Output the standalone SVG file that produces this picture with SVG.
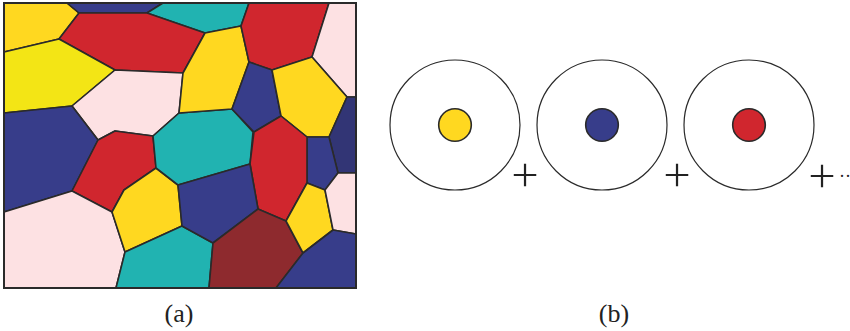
<svg xmlns="http://www.w3.org/2000/svg" width="850" height="331" viewBox="0 0 850 331">
<style>
.c{stroke:#2a2a2a;stroke-width:1.6;stroke-linejoin:round}
.y{fill:#ffd820}.yb{fill:#f3e515}.r{fill:#d0262e}.b{fill:#373d8a}.t{fill:#21b3b1}.p{fill:#fde1e3}.dr{fill:#8e2a2e}.n{fill:#323575}
.o{fill:none;stroke:#2a2a2a;stroke-width:1.2}
.lbl{font-family:"Liberation Serif",serif;fill:#222}
.pl{font-family:"Inter","Liberation Sans",sans-serif;font-weight:200;fill:#222}
</style>
<rect width="850" height="331" fill="#fff"/>
<g id="voronoi">
<polygon class="c y" points="4,3 67,3 79,13 59,39 4,52"/>
<polygon class="c b" points="67,3 163,3 147,13 79,13"/>
<polygon class="c t" points="163,3 249,3 241,26 205,33 147,13"/>
<polygon class="c r" points="79,13 147,13 205,33 183,73 115,70 59,39"/>
<polygon class="c yb" points="4,52 59,39 115,70 72,106 4,113"/>
<polygon class="c p" points="115,70 183,73 179,113 153,136 115,131 98,140 72,106"/>
<polygon class="c b" points="4,113 72,106 98,140 72,191 4,212"/>
<polygon class="c r" points="98,140 115,131 153,136 156,168 124,190 112,212 72,191"/>
<polygon class="c p" points="4,212 72,191 112,212 125,252 116,288 4,288"/>
<polygon class="c y" points="112,212 124,190 156,168 178,185 182,226 125,252"/>
<polygon class="c t" points="125,252 182,226 213,243 209,288 116,288"/>
<polygon class="c t" points="153,136 179,113 232,109 253,132 250,164 178,185 156,168"/>
<polygon class="c y" points="205,33 241,26 249,62 232,109 179,113 183,73"/>
<polygon class="c r" points="241,26 249,3 329,3 312,57 272,70 249,62"/>
<polygon class="c p" points="329,3 356,3 356,97 347,97 312,57"/>
<polygon class="c b" points="249,62 272,70 281,116 254,132 232,109"/>
<polygon class="c y" points="272,70 312,57 347,97 329,137 307,137 281,116"/>
<polygon class="c n" points="347,97 356,97 356,173 338,173 329,137"/>
<polygon class="c b" points="307,137 329,137 338,173 325,190 307,183"/>
<polygon class="c r" points="254,132 281,116 307,137 307,183 286,221 258,209 250,164"/>
<polygon class="c b" points="178,185 250,164 258,209 213,243 182,226"/>
<polygon class="c dr" points="213,243 258,209 286,221 303,253 276,288 209,288"/>
<polygon class="c y" points="307,183 325,190 333,230 303,253 286,221"/>
<polygon class="c p" points="325,190 338,173 356,173 356,234 333,230"/>
<polygon class="c b" points="303,253 333,230 356,234 356,288 276,288"/>
<rect x="4" y="3" width="352" height="285" fill="none" stroke="#2a2a2a" stroke-width="2"/>
</g>
<g id="basis1">
<circle class="o" cx="455" cy="125" r="65"/>
<circle class="c y" cx="455" cy="125" r="16.3" stroke-width="1.2"/>
</g>
<g id="basis2">
<circle class="o" cx="602" cy="125" r="65"/>
<circle class="c b" cx="602" cy="125" r="16.3" stroke-width="1.2"/>
</g>
<g id="basis3">
<circle class="o" cx="749" cy="125" r="65"/>
<circle class="c r" cx="749" cy="125" r="16.3" stroke-width="1.2"/>
</g>
<g id="plus-signs" class="pl" font-size="52" text-anchor="middle">
<text x="525" y="190">+</text>
<text x="677" y="190">+</text>
<text x="822" y="191">+</text>
</g>
<text class="lbl" x="839" y="182" font-size="18">··</text>
<text class="lbl" x="179" y="322" font-size="26" text-anchor="middle">(a)</text>
<text class="lbl" x="614" y="322" font-size="26" text-anchor="middle">(b)</text>
</svg>
